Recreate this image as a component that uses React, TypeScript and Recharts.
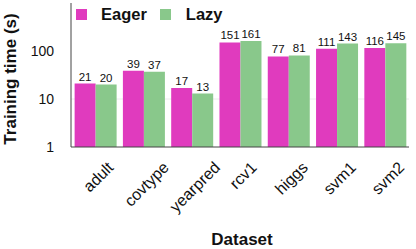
import React from 'react';
import { BarChart, Bar, XAxis, YAxis, CartesianGrid, LabelList, Legend, Label } from 'recharts';

const categories = ['adult', 'covtype', 'yearpred', 'rcv1', 'higgs', 'svm1', 'svm2'];
const eager = [21, 39, 17, 151, 77, 111, 116];
const lazy = [20, 37, 13, 161, 81, 143, 145];
const yTicks = [1, 10, 100];
const yDomain = [1, 1000];

const PINK = '#E03BBE';
const GREEN = '#89C88B';
const FONT = '"Liberation Sans", Arial, Helvetica, sans-serif';

const data = categories.map((c, i) => ({ name: c, Eager: eager[i], Lazy: lazy[i] }));

let ctx: CanvasRenderingContext2D | null = null;
function measure(text: string, size: number): number {
  if (!ctx) {
    const c = document.createElement('canvas');
    ctx = c.getContext('2d');
  }
  if (!ctx) return text.length * size * 0.5;
  ctx.font = `${size}px ${FONT}`;
  return ctx.measureText(text).width;
}

const XTick = (props: any) => {
  const { x, y, payload } = props;
  const size = 16;
  const w = measure(String(payload.value), size);
  const ax = x + 0.3535 * w + 7;
  const ay = y + 21.5;
  return (
    <text
      x={ax}
      y={ay}
      textAnchor="end"
      fontSize={size}
      fontFamily={FONT}
      fill="#111"
      transform={`rotate(-45 ${ax} ${ay})`}
    >
      {payload.value}
    </text>
  );
};

const YTick = (props: any) => {
  const { x, y, payload } = props;
  return (
    <text x={x} y={y} dy={5} textAnchor="end" fontSize={14} fontFamily={FONT} fill="#111">
      {payload.value}
    </text>
  );
};

const LegendContent = () => (
  <div style={{ display: 'flex', alignItems: 'center', fontFamily: FONT, fontWeight: 'bold', fontSize: 16.5, color: '#111' }}>
    <span style={{ display: 'inline-block', width: 11, height: 11, background: PINK, marginRight: 14 }} />
    <span style={{ marginRight: 13 }}>Eager</span>
    <span style={{ display: 'inline-block', width: 11, height: 11, background: GREEN, marginRight: 15 }} />
    <span>Lazy</span>
  </div>
);

export default function App() {
  return (
    <div style={{ position: 'absolute', left: 0, top: 0, width: 416, height: 249, background: '#fff' }}>
      <BarChart
        width={416}
        height={249}
        data={data}
        margin={{ top: 3, right: 7, left: 0, bottom: 0 }}
        barCategoryGap="7.5%"
        barGap={0}
      >
        <CartesianGrid vertical={false} horizontalValues={[10]} stroke="#ececec" />
        <XAxis
          dataKey="name"
          height={102}
          tick={<XTick />}
          tickLine={false}
          tickSize={0}
          tickMargin={0}
          interval={0}
          axisLine={{ stroke: '#444' }}
        >
          <Label
            content={() => (
              <text x={242} y={245} textAnchor="middle" fontSize={17} fontWeight="bold" fontFamily={FONT} fill="#111">
                Dataset
              </text>
            )}
          />
        </XAxis>
        <XAxis xAxisId="top" dataKey="name" orientation="top" height={0} tick={false} tickLine={false} axisLine={{ stroke: '#888' }} />
        <YAxis
          scale="log"
          domain={yDomain}
          ticks={yTicks}
          allowDataOverflow
          width={71}
          tick={<YTick />}
          tickLine={false}
          tickSize={0}
          tickMargin={17}
          axisLine={{ stroke: '#444' }}
        >
          <Label
            content={() => (
              <text
                x={16}
                y={79}
                textAnchor="middle"
                fontSize={17}
                fontWeight="bold"
                fontFamily={FONT}
                fill="#111"
                transform="rotate(-90 16 79)"
              >
                Training time (s)
              </text>
            )}
          />
        </YAxis>
        <YAxis yAxisId="right" orientation="right" width={0} tick={false} tickLine={false} axisLine={{ stroke: '#888' }} />
        <Legend
          layout="horizontal"
          verticalAlign="middle"
          align="center"
          wrapperStyle={{ top: 5, left: 76, width: 'auto' }}
          content={<LegendContent />}
        />
        <Bar dataKey="Eager" fill={PINK} isAnimationActive={false}>
          <LabelList dataKey="Eager" position="top" offset={3} fontSize={11.5} fontFamily={FONT} fill="#111" />
        </Bar>
        <Bar dataKey="Lazy" fill={GREEN} isAnimationActive={false}>
          <LabelList dataKey="Lazy" position="top" offset={3} fontSize={11.5} fontFamily={FONT} fill="#111" />
        </Bar>
      </BarChart>
    </div>
  );
}
